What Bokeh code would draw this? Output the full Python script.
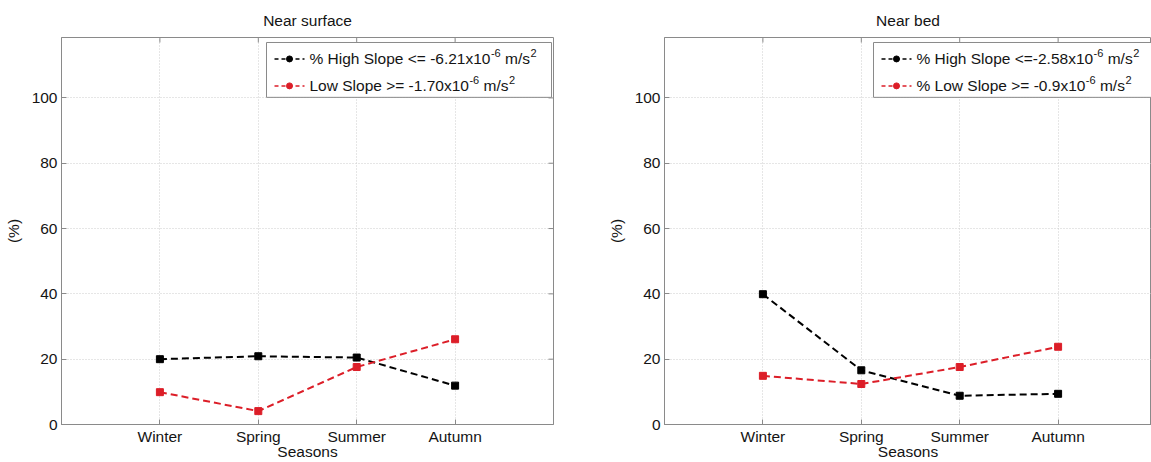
from bokeh.plotting import figure
from bokeh.layouts import row
from bokeh.models import Range1d, FixedTicker, Label
from bokeh.embed import file_html
from bokeh.resources import INLINE

# ---- data -------------------------------------------------------------
seasons = ["Winter", "Spring", "Summer", "Autumn"]
y_ticks = [0, 20, 40, 60, 80, 100]

surface_high = [20.0, 20.9, 20.5, 11.9]
surface_low = [9.9, 4.1, 17.6, 26.1]
bed_high = [39.9, 16.6, 8.8, 9.4]
bed_low = [14.9, 12.4, 17.6, 23.8]

# legend entries: (text, superscript, unit, superscript)
surface_labels = [("% High Slope <= -6.21x10", "-6", "m/s", "2"),
                  ("Low Slope >= -1.70x10", "-6", "m/s", "2")]
bed_labels = [("% High Slope <=-2.58x10", "-6", "m/s", "2"),
              ("% Low Slope >= -0.9x10", "-6", "m/s", "2")]

# ---- style / layout ---------------------------------------------------
FONT = "Liberation Sans"
FS = 15.5
SUP_FS = 11
TEXT_COLOR = "#141414"
BOX_COLOR = "#8a8a8a"
GRID_COLOR = "#cdcdcd"
BLACK = "#000000"
RED = "#dc1e28"

FIG_H = 462
FRAME_TOP = 36
FRAME_BOTTOM = 424
Y_MAX = 118.5
UNIT_PX = 98.4          # pixels between neighbouring seasons
X_FULL = len(seasons) + 1

# advance widths of Liberation Sans (per 1000 em)
ADV = {' ': 278, '%': 889, 'H': 722, 'i': 222, 'g': 556, 'h': 556, 'S': 667,
       'l': 222, 'o': 556, 'p': 556, 'e': 556, '<': 584, '=': 584, '>': 584,
       '-': 333, '.': 278, 'x': 500, 'm': 833, '/': 278, 's': 500, 'L': 556,
       'w': 722}


def text_width(s, size):
    return sum(ADV.get(c, 556) for c in s) * size / 1000.0


def make_panel(title, high, low, labels, width, left_border, frame_w,
               legend_left, legend_right):
    x_end = frame_w / UNIT_PX
    frame_h = FRAME_BOTTOM - FRAME_TOP
    p = figure(width=width, height=FIG_H, output_backend="svg",
               toolbar_location=None,
               x_range=Range1d(0, x_end), y_range=Range1d(0, Y_MAX),
               min_border_left=left_border,
               min_border_right=width - left_border - frame_w,
               min_border_top=FRAME_TOP,
               min_border_bottom=FIG_H - FRAME_BOTTOM)
    p.background_fill_color = "white"
    p.border_fill_color = "white"
    p.outline_line_color = BOX_COLOR
    p.outline_line_width = 1

    # pixel helpers (figure-local) for legend placement
    def px_x(px):
        return (px - left_border) / UNIT_PX

    def px_y(py):
        return Y_MAX * (FRAME_BOTTOM - py) / frame_h

    # title
    p.title.text = title
    p.title.align = "center"
    p.title.text_font = FONT
    p.title.text_font_size = f"{FS}px"
    p.title.text_font_style = "normal"
    p.title.text_color = TEXT_COLOR
    p.title.standoff = 18

    # axes
    xs = list(range(1, len(seasons) + 1))
    p.xaxis.ticker = FixedTicker(ticks=xs)
    p.xaxis.major_label_overrides = {x: s for x, s in zip(xs, seasons)}
    p.yaxis.ticker = FixedTicker(ticks=y_ticks)
    for ax in (p.xaxis[0], p.yaxis[0]):
        ax.axis_line_color = BOX_COLOR
        ax.major_tick_line_color = BOX_COLOR
        ax.major_tick_in = 5
        ax.major_tick_out = 0
        ax.minor_tick_line_color = None
        ax.major_label_text_font = FONT
        ax.major_label_text_font_size = f"{FS}px"
        ax.major_label_text_color = TEXT_COLOR
        ax.axis_label_text_font = FONT
        ax.axis_label_text_font_size = f"{FS}px"
        ax.axis_label_text_font_style = "normal"
        ax.axis_label_text_color = TEXT_COLOR
    p.xaxis.axis_label = "Seasons"
    p.xaxis.major_label_standoff = 3
    p.xaxis.axis_label_standoff = -5
    p.yaxis.axis_label = "(%)"
    p.yaxis.major_label_standoff = 4
    p.yaxis.axis_label_standoff = 7

    # dotted grid
    p.xgrid.ticker = FixedTicker(ticks=xs)
    p.ygrid.ticker = FixedTicker(ticks=y_ticks)
    for g in (p.xgrid[0], p.ygrid[0]):
        g.grid_line_color = GRID_COLOR
        g.grid_line_dash = "1 2"
        g.grid_line_width = 1

    # mirrored inward ticks on the top and right edges of the box
    tick_dy = 5 * Y_MAX / frame_h
    tick_dx = 5 / UNIT_PX
    p.segment(x0=xs, x1=xs, y0=[Y_MAX] * len(xs), y1=[Y_MAX - tick_dy] * len(xs),
              line_color=BOX_COLOR, line_width=1)
    p.segment(x0=[X_FULL] * len(y_ticks), x1=[X_FULL - tick_dx] * len(y_ticks),
              y0=y_ticks, y1=y_ticks, line_color=BOX_COLOR, line_width=1)

    # series
    for vals, color in ((high, BLACK), (low, RED)):
        p.line(xs, vals, line_color=color, line_width=2, line_dash="7 4")
        p.scatter(xs, vals, marker="square", size=7, fill_color=color,
                  line_color=color)

    # legend box
    top_px, bot_px = 41, 96
    p.quad(left=[px_x(legend_left)], right=[px_x(legend_right)],
           top=[px_y(top_px)], bottom=[px_y(bot_px)],
           fill_color="white", line_color=BOX_COLOR, line_width=1)
    row_px = [57.5, 84.5]
    space = text_width(" ", FS)
    for (main, sup1, unit, sup2), color, ry in zip(labels, (BLACK, RED), row_px):
        yv = px_y(ry)
        p.line([px_x(legend_left + 8), px_x(legend_left + 38)], [yv, yv],
               line_color=color, line_width=1.5, line_dash="4 3")
        p.scatter([px_x(legend_left + 23)], [yv], marker="circle", size=6,
                  fill_color=color, line_color=color)
        x0 = legend_left + 43
        pieces = [(main, FS, 0, 0.5), (sup1, SUP_FS, 6, space),
                  (unit, FS, 0, 0.5), (sup2, SUP_FS, 6, 0)]
        for txt, size, lift, gap in pieces:
            p.add_layout(Label(x=px_x(x0), y=px_y(ry - lift), text=txt,
                               text_font=FONT, text_font_size=f"{size}px",
                               text_color=TEXT_COLOR, text_align="left",
                               text_baseline="middle"))
            x0 += text_width(txt, size) + gap
    return p


left = make_panel("Near surface", surface_high, surface_low, surface_labels,
                  width=575, left_border=61, frame_w=492,
                  legend_left=266, legend_right=551)
right = make_panel("Near bed", bed_high, bed_low, bed_labels,
                   width=576, left_border=89, frame_w=487,
                   legend_left=298, legend_right=582)

layout = row(left, right)
open("out.html", "w").write(file_html(layout, INLINE))
